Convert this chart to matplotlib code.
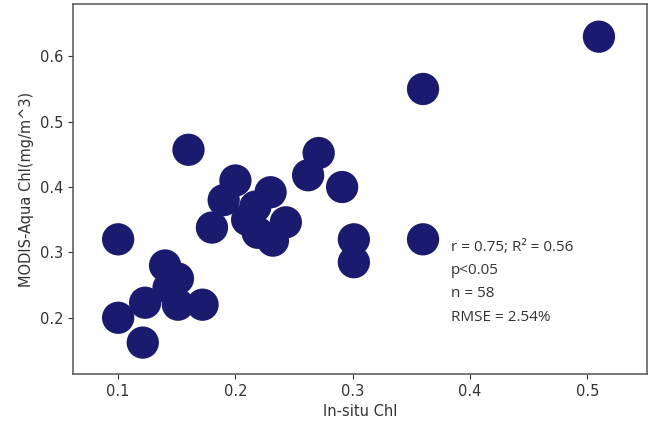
import matplotlib
matplotlib.use('Agg')
import matplotlib.pyplot as plt

# in-situ vs satellite chlorophyll
insitu = [0.51, 0.36, 0.36, 0.16, 0.10, 0.10, 0.121, 0.123, 0.140, 0.151, 0.143,
          0.151, 0.172, 0.18, 0.19, 0.20, 0.23, 0.217, 0.21, 0.219, 0.232,
          0.243, 0.271, 0.262, 0.291, 0.301, 0.301]
modis = [0.63, 0.55, 0.32, 0.457, 0.32, 0.20, 0.162, 0.223, 0.28, 0.26, 0.246,
         0.22, 0.22, 0.338, 0.38, 0.41, 0.392, 0.37, 0.35, 0.33, 0.318,
         0.346, 0.452, 0.418, 0.40, 0.32, 0.285]

stats_text = 'r = 0.75; R\u00b2 = 0.56\np<0.05\nn = 58\nRMSE = 2.54%'

fig = plt.figure(figsize=(6.66, 4.33), dpi=100)
ax = fig.add_axes([0.1096, 0.1363, 0.8619, 0.8545])

ax.scatter(insitu, modis, s=540, c='#1a1a6e', edgecolors='none')

ax.set_xlim(0.0615, 0.551)
ax.set_ylim(0.114, 0.68)
ax.set_xticks([0.1, 0.2, 0.3, 0.4, 0.5])
ax.set_yticks([0.2, 0.3, 0.4, 0.5, 0.6])
ax.tick_params(labelsize=10.5, colors='#333333')
for sp in ax.spines.values():
    sp.set_color('#555555')
    sp.set_linewidth(1.1)

ax.set_xlabel('In-situ Chl', fontsize=10.5, color='#333333')
ax.set_ylabel('MODIS-Aqua Chl(mg/m^3)', fontsize=10.5, color='#333333')

ax.text(0.384, 0.319, stats_text, fontsize=11, family=['Open Sans', 'DejaVu Sans'],
        color='#333333', va='top', ha='left', linespacing=1.75)

fig.savefig('out.png', dpi=100)
